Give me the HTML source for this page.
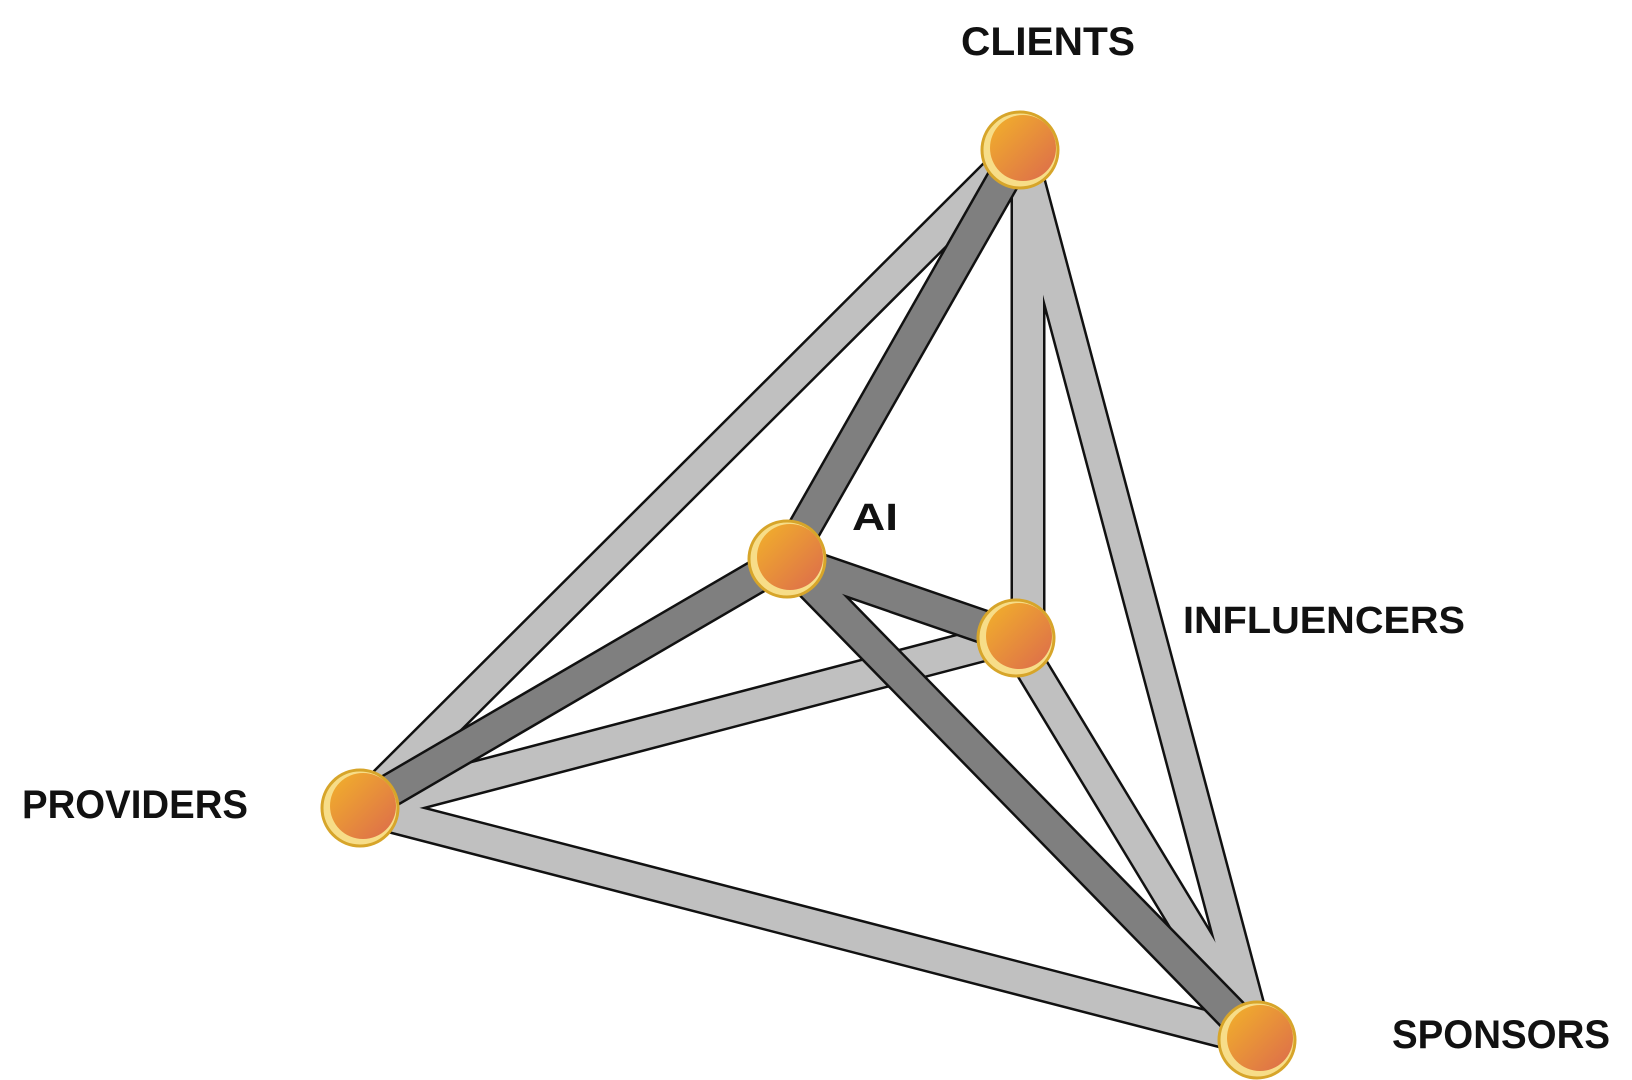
<!DOCTYPE html>
<html><head><meta charset="utf-8"><style>
html,body{margin:0;padding:0;background:#fff;width:1632px;height:1080px;overflow:hidden}
text{font-family:"Liberation Sans",sans-serif;font-weight:bold;fill:#111}
</style></head><body>
<svg width="1632" height="1080" viewBox="0 0 1632 1080" xmlns="http://www.w3.org/2000/svg">
<defs>
<linearGradient id="g" x1="0" y1="0" x2="1" y2="1">
<stop offset="0" stop-color="#f2b22a"/><stop offset="1" stop-color="#dc6a4c"/>
</linearGradient>
<g id="node">
<circle r="38" fill="#f7dd88" stroke="#d7a52a" stroke-width="3"/>
<circle cx="3" cy="-2" r="33" fill="url(#g)"/>
</g>
</defs>
<g stroke-linecap="butt">
<g stroke="#111" stroke-width="35">
<line x1="1020" y1="150" x2="360" y2="808"/>
<line x1="1028" y1="165" x2="1028" y2="620"/>
<line x1="1020" y1="150" x2="1257" y2="1040"/>
<line x1="1013" y1="637" x2="360" y2="808"/>
<line x1="1013" y1="637" x2="1257" y2="1040"/>
<line x1="360" y1="808" x2="1257" y2="1040"/>
</g>
<g stroke="#c0c0c0" stroke-width="30">
<line x1="1020" y1="150" x2="360" y2="808"/>
<line x1="1028" y1="165" x2="1028" y2="620"/>
<line x1="1020" y1="150" x2="1257" y2="1040"/>
<line x1="1013" y1="637" x2="360" y2="808"/>
<line x1="1013" y1="637" x2="1257" y2="1040"/>
<line x1="360" y1="808" x2="1257" y2="1040"/>
</g>
<g stroke="#111" stroke-width="35">
<line x1="787" y1="559" x2="1020" y2="150"/>
<line x1="787" y1="559" x2="360" y2="808"/>
<line x1="787" y1="559" x2="1013" y2="637"/>
<line x1="787" y1="559" x2="1257" y2="1040"/>
</g>
<g stroke="#7f7f7f" stroke-width="30">
<line x1="787" y1="559" x2="1020" y2="150"/>
<line x1="787" y1="559" x2="360" y2="808"/>
<line x1="787" y1="559" x2="1013" y2="637"/>
<line x1="787" y1="559" x2="1257" y2="1040"/>
</g>
</g>
<use href="#node" x="1020" y="150"/>
<use href="#node" x="787" y="559"/>
<use href="#node" x="1016" y="638"/>
<use href="#node" x="360" y="808"/>
<use href="#node" x="1257" y="1040"/>
<text x="961" y="55" font-size="40" textLength="174" lengthAdjust="spacingAndGlyphs">CLIENTS</text>
<text x="852" y="530" font-size="38" textLength="46" lengthAdjust="spacingAndGlyphs">AI</text>
<text x="1183" y="633" font-size="38" textLength="282" lengthAdjust="spacingAndGlyphs">INFLUENCERS</text>
<text x="22" y="818" font-size="40" textLength="226" lengthAdjust="spacingAndGlyphs">PROVIDERS</text>
<text x="1392" y="1048" font-size="40" textLength="218" lengthAdjust="spacingAndGlyphs">SPONSORS</text>
</svg>
</body></html>
